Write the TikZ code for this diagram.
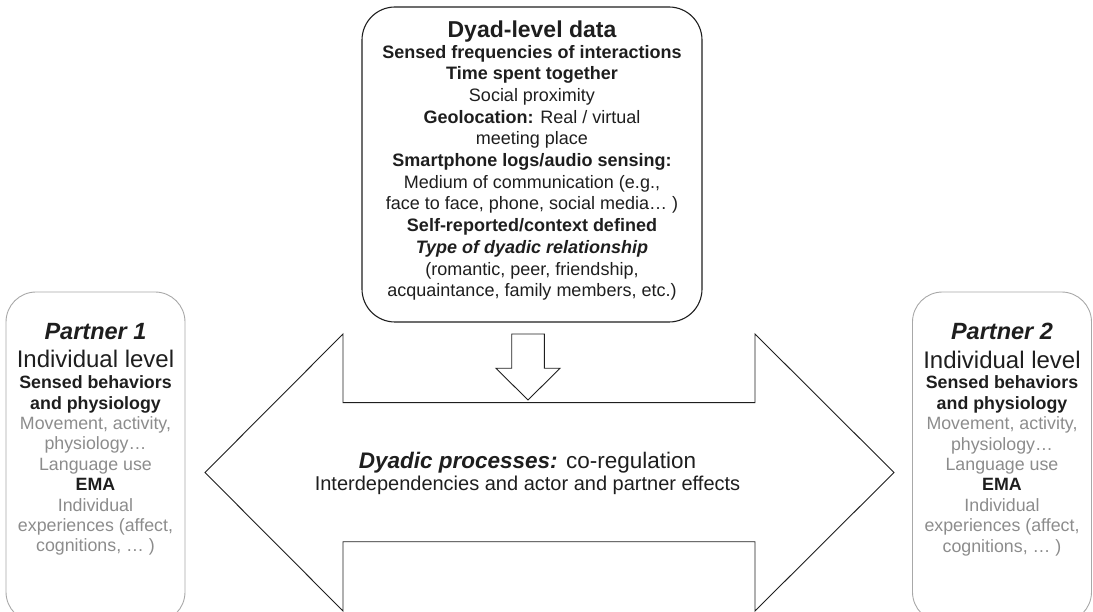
\documentclass[tikz,border=0pt]{standalone}
\usepackage{fontspec}
\setmainfont{Liberation Sans}
\usetikzlibrary{positioning}

\definecolor{ink}{HTML}{1E1E1E}
\definecolor{softgray}{HTML}{8C8C8C}
\definecolor{framegray}{HTML}{A8A8A8}

\newcommand{\grayline}[1]{{\color{softgray}#1}}
\newcommand{\bigline}[2]{{\fontsize{#1}{20.4}\selectfont #2}}

\begin{document}
\begin{tikzpicture}[x=1pt, y=1pt, line join=miter,
    dyadbox/.style={rectangle, draw=ink, line width=1.1pt,
      rounded corners=33pt, minimum width=340pt, minimum height=315pt},
    sidebox/.style={rectangle, draw=framegray, line width=0.9pt,
      rounded corners=30pt, minimum width=179pt, minimum height=330pt},
    txt/.style={inner sep=0pt, align=center, text=ink},
    bodytxt/.style={txt, font=\fontsize{18}{21.7}\selectfont},
    sidetxt/.style={txt, font=\fontsize{17.8}{20.4}\selectfont},
    outline/.style={draw=ink, line width=0.9pt}
    ]
    \useasboundingbox (0,0) rectangle (1093,611);

    % double arrow between the partners
    \draw[outline] (205,138.5) -- (343,277) -- (343,208.3) -- (755,208.3)
      -- (755,277) -- (894,138.5) -- (755,0) -- (755,69.3)
      -- (343,69.3) -- (343,0) -- cycle;
    % dyad-level data feeding in
    \draw[outline] (511.7,277) -- (544.3,277) -- (544.3,242.7) -- (560,242.7)
      -- (528,211) -- (496,242.7) -- (511.7,242.7) -- cycle;

    \node[dyadbox] (dyad) at (532,446.5) {};
    \node[sidebox] (p1box) at (95.5,154) {};
    \node[sidebox] (p2box) at (1002,154) {};

    \node[bodytxt, below=14.1pt of dyad.north] (dyadtext)
      {{\fontsize{23}{21.7}\selectfont\bfseries Dyad-level data}\\[-1.1pt]
       \textbf{Sensed frequencies of interactions}\\
       \textbf{Time spent together}\\
       Social proximity\\
       \textbf{Geolocation:} Real / virtual\\
       meeting place\\
       \textbf{Smartphone logs/audio sensing:}\\
       Medium of communication (e.g.,\\
       face to face, phone, social media… )\\
       \textbf{Self-reported/context defined}\\
       \textbf{\textit{Type of dyadic relationship}}\\
       (romantic, peer, friendship,\\
       acquaintance, family members, etc.)};

    \node[sidetxt, below=31.5pt of p1box.north] (p1text)
      {\bigline{23.5}{\bfseries\itshape Partner 1}\\[8pt]
       \bigline{24}{Individual level}\\[0.4pt]
       \textbf{Sensed behaviors}\\
       \textbf{and physiology}\\
       \grayline{Movement, activity,}\\
       \grayline{physiology…}\\
       \grayline{Language use}\\
       \textbf{EMA}\\
       \grayline{Individual}\\
       \grayline{experiences (affect,}\\
       \grayline{cognitions, … )}};

    \node[sidetxt, below=31.5pt of p2box.north] (p2text)
      {\bigline{23.5}{\bfseries\itshape Partner 2}\\[8pt]
       \bigline{24}{Individual level}\\[0.4pt]
       \textbf{Sensed behaviors}\\
       \textbf{and physiology}\\
       \grayline{Movement, activity,}\\
       \grayline{physiology…}\\
       \grayline{Language use}\\
       \textbf{EMA}\\
       \grayline{Individual}\\
       \grayline{experiences (affect,}\\
       \grayline{cognitions, … )}};

    \node[txt, font=\fontsize{20}{22}\selectfont, anchor=north] (coreg) at (527.5,159.4)
      {{\fontsize{22.5}{22}\selectfont\textbf{\textit{Dyadic processes:}} co-regulation}\\
       Interdependencies and actor and partner effects};
\end{tikzpicture}
\end{document}
